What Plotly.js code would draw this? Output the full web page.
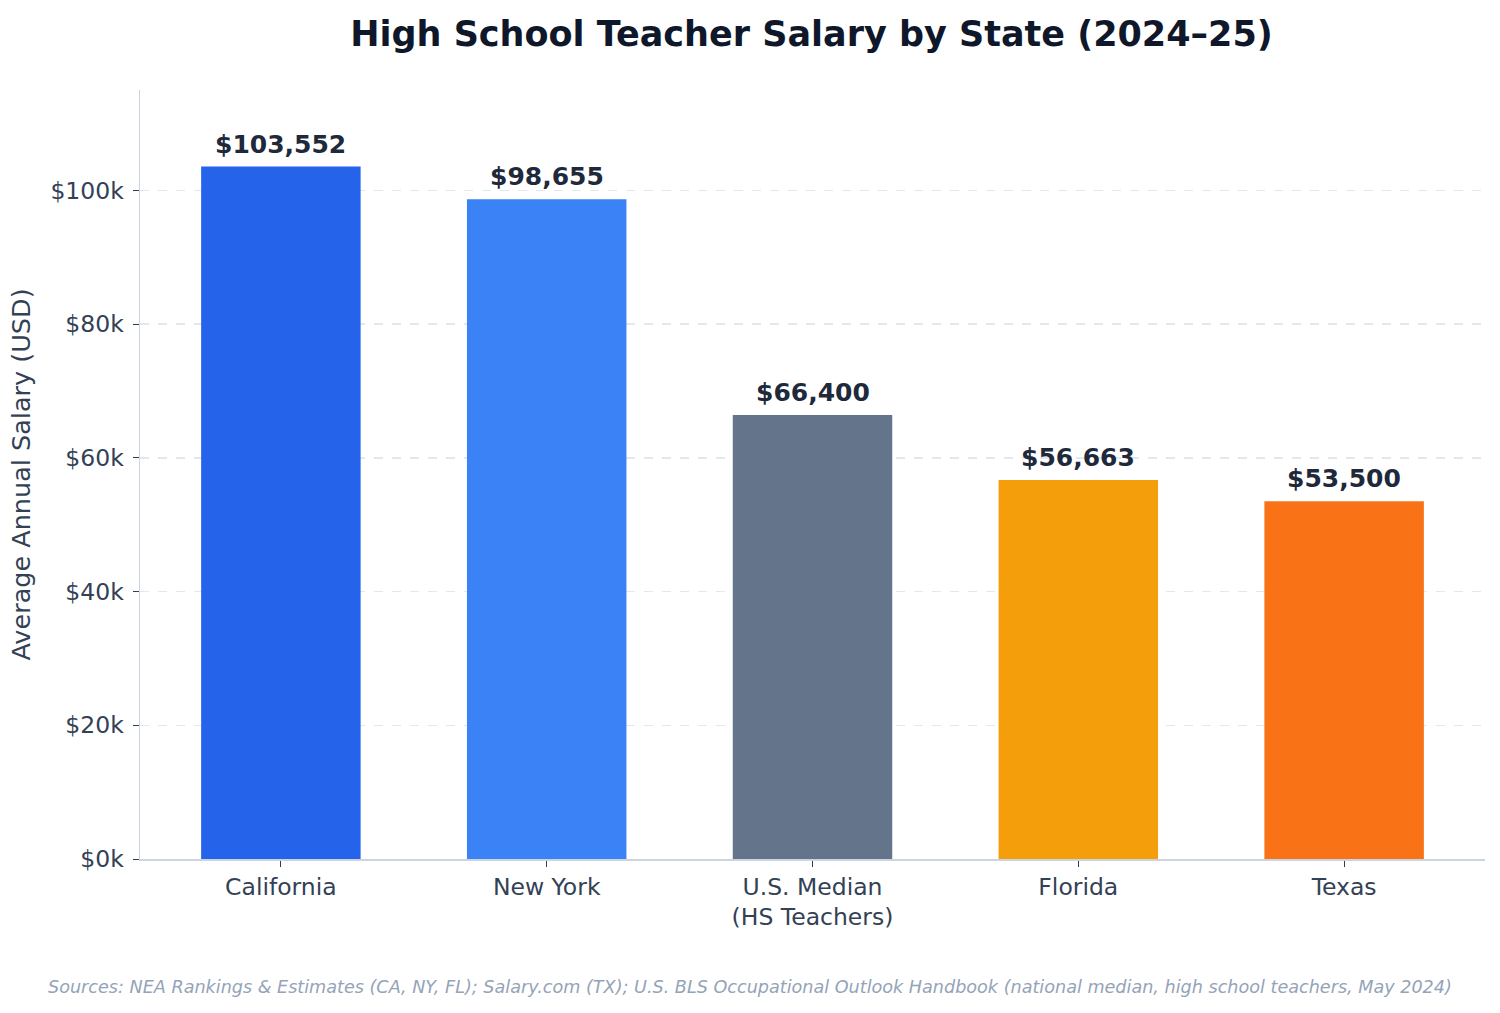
<!DOCTYPE html>
<html>
<head>
<meta charset="utf-8">
<script src="https://cdn.plot.ly/plotly-3.0.1.min.js"></script>
<style>
  body { margin: 0; background: #fff; }
  #chart { width: 1500px; height: 1013px; }
</style>
</head>
<body>
<div id="chart"></div>
<script>
'use strict';

// chart data
const categories = ['California', 'New York', 'U.S. Median<br>(HS Teachers)', 'Florida', 'Texas'];
const salaries = [103552, 98655, 66400, 56663, 53500];
const barColors = ['#2563eb', '#3b82f6', '#64748b', '#f59e0b', '#f97316'];
const tickValues = [0, 20000, 40000, 60000, 80000, 100000];
const tickLabels = ['$0k', '$20k', '$40k', '$60k', '$80k', '$100k'];

const font = 'DejaVu Sans, sans-serif';

const trace = {
	type: 'bar',
	x: categories,
	y: salaries,
	width: 0.6,
	marker: { color: barColors, line: { width: 0 } },
	hoverinfo: 'x+y'
};

// value labels above each bar
const valueLabels = salaries.map(function (v, i) {
	return {
		x: categories[i],
		y: v,
		xref: 'x',
		yref: 'y',
		text: '<b>$' + v.toLocaleString('en-US') + '</b>',
		showarrow: false,
		yanchor: 'bottom',
		yshift: 6,
		font: { family: font, size: 25, color: '#1e293b' }
	};
});

const layout = {
	width: 1500,
	height: 1013,
	margin: { l: 140, r: 15, t: 90, b: 154 },
	paper_bgcolor: '#ffffff',
	plot_bgcolor: '#ffffff',
	font: { family: font, color: '#334155' },
	showlegend: false,
	title: {
		text: '<b>High School Teacher Salary by State (2024–25)</b>',
		font: { family: font, size: 35, color: '#0f172a' },
		x: 0.541,
		xanchor: 'center',
		y: 0.967,
		yanchor: 'middle'
	},
	xaxis: {
		range: [-0.53, 4.53],
		showline: true,
		linecolor: '#cbd5e1',
		linewidth: 1.5,
		ticks: 'outside',
		ticklen: 6,
		tickcolor: '#334155',
		tickfont: { family: font, size: 23.5, color: '#334155' },
		showgrid: false,
		zeroline: false
	},
	yaxis: {
		range: [0, 115000],
		tickvals: tickValues,
		ticktext: tickLabels,
		showline: true,
		linecolor: '#cbd5e1',
		linewidth: 1.5,
		ticks: 'outside',
		ticklen: 6,
		tickcolor: '#334155',
		ticklabelstandoff: 4,
		tickfont: { family: font, size: 23.5, color: '#334155' },
		showgrid: true,
		gridcolor: '#e2e8f0',
		griddash: 'dash',
		gridwidth: 1.5,
		zeroline: false,
		title: {
			text: 'Average Annual Salary (USD)',
			font: { family: font, size: 25.5, color: '#334155' },
			standoff: 12
		}
	},
	annotations: valueLabels.concat([{
		text: '<i>Sources: NEA Rankings &amp; Estimates (CA, NY, FL); Salary.com (TX); U.S. BLS Occupational Outlook Handbook (national median, high school teachers, May 2024)</i>',
		xref: 'paper',
		yref: 'paper',
		x: 0.4535,
		xanchor: 'center',
		y: -0.166,
		yanchor: 'middle',
		showarrow: false,
		font: { family: font, size: 17.6, color: '#94a3b8' }
	}])
};

Plotly.newPlot('chart', [trace], layout, { displayModeBar: false, staticPlot: true });
</script>
</body>
</html>
